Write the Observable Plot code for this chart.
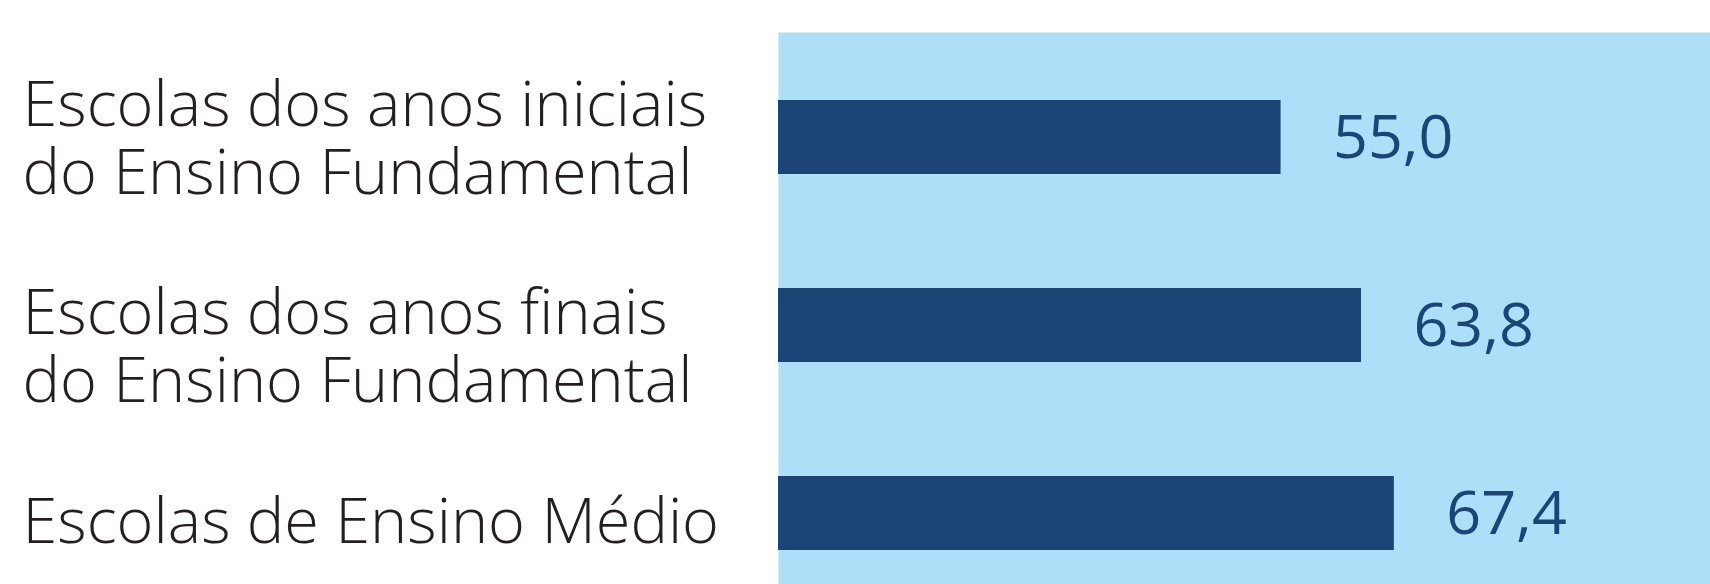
<!DOCTYPE html>
<html>
<head>
<meta charset="utf-8">
<script src="https://cdn.jsdelivr.net/npm/d3@7"></script>
<script src="https://cdn.jsdelivr.net/npm/@observablehq/plot@0.6"></script>
<style>
  html, body { margin: 0; padding: 0; background: #ffffff; }
  #chart svg { display: block; }
</style>
</head>
<body>
<div id="chart"></div>
<script>
const categories = [
  "Escolas dos anos iniciais\ndo Ensino Fundamental",
  "Escolas dos anos finais\ndo Ensino Fundamental",
  "Escolas de Ensino Médio"
];
const values = [55.0, 63.8, 67.4];

const data = categories.map((c, i) => ({category: c, value: values[i]}));
const fmt = v => v.toFixed(1).replace(".", ",");

const W = 1710, H = 584;
const left = 778;
// vertical offsets of each category label block relative to its band centre
const labelDy = [-60, -40, -18.5];

const labelMarks = data.map((d, i) => Plot.text([d], {
  y: "category", text: "category", frameAnchor: "left",
  textAnchor: "start", lineAnchor: "top", dx: 22 - left, dy: labelDy[i],
  lineHeight: 1.08, fontSize: 63, fill: "#231f20", fontWeight: 300,
  fontFamily: "'Open Sans', sans-serif"
}));

const chart = Plot.plot({
  width: W,
  height: H,
  marginLeft: left,
  marginRight: 0,
  marginTop: 32,
  marginBottom: 0,
  style: {background: "#ffffff", fontFamily: "'Open Sans', sans-serif"},
  x: {domain: [0, 102], range: [left, W], axis: null},
  y: {domain: categories, range: [100, 550], paddingInner: 0.609, paddingOuter: 0, axis: null},
  marks: [
    Plot.frame({fill: "#ade0f8", stroke: null}),
    Plot.barX(data, {x: "value", y: "category", fill: "#1a4576"}),
    Plot.text(data, {
      x: "value", y: "category", text: d => fmt(d.value),
      textAnchor: "start", dx: 52, dy: 1, fontSize: 61, fill: "#1a4576",
      fontFamily: "'Open Sans', sans-serif", fontWeight: 400
    }),
    ...labelMarks
  ]
});
document.getElementById("chart").appendChild(chart);
</script>
</body>
</html>
